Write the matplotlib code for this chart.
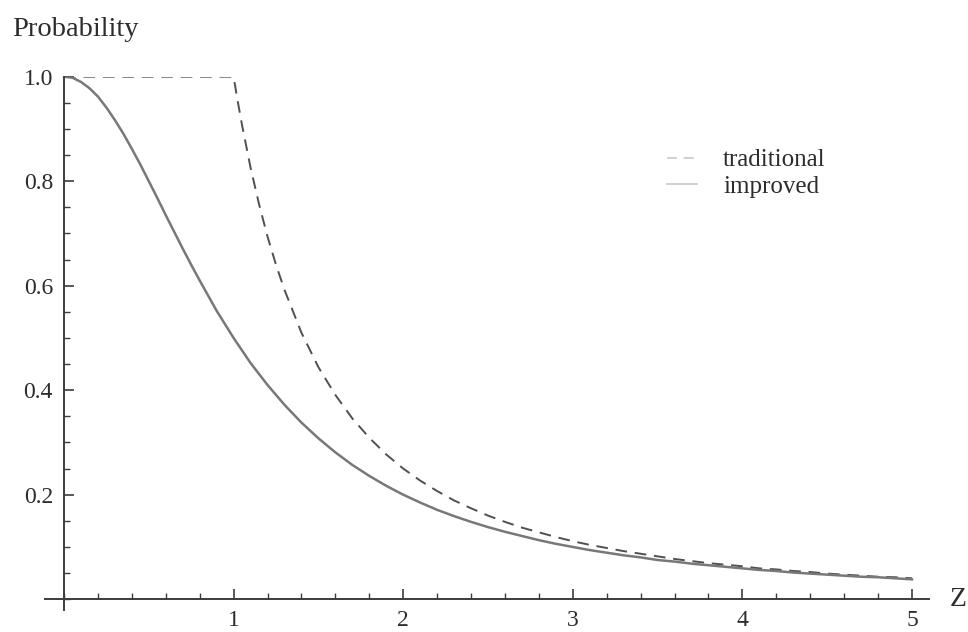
import matplotlib
matplotlib.use("Agg")
import matplotlib.pyplot as plt
from matplotlib.ticker import MultipleLocator, FixedLocator

plt.rcParams['font.family'] = ['Liberation Serif', 'DejaVu Serif']

# improved probability
z_improved = [0.0, 0.05, 0.1, 0.15, 0.2, 0.25, 0.3, 0.35, 0.4, 0.45, 0.5, 0.55, 0.6, 0.65,
              0.7, 0.75, 0.8, 0.85, 0.9, 0.95, 1.0, 1.1, 1.2, 1.3, 1.4, 1.5, 1.6, 1.7,
              1.8, 1.9, 2.0, 2.1, 2.2, 2.3, 2.4, 2.5, 2.6, 2.7, 2.8, 2.9, 3.0, 3.1, 3.2,
              3.3, 3.4, 3.5, 3.6, 3.7, 3.8, 3.9, 4.0, 4.1, 4.2, 4.3, 4.4, 4.5, 4.6, 4.7,
              4.8, 4.9, 5.0]
p_improved = [1.000, 0.998, 0.990, 0.978, 0.962, 0.941, 0.917, 0.891, 0.862, 0.832,
              0.800, 0.768, 0.735, 0.703, 0.671, 0.640, 0.610, 0.581, 0.552, 0.526,
              0.500, 0.452, 0.410, 0.372, 0.338, 0.308, 0.281, 0.257, 0.236, 0.217,
              0.200, 0.185, 0.171, 0.159, 0.148, 0.138, 0.129, 0.121, 0.113, 0.106,
              0.100, 0.094, 0.089, 0.084, 0.080, 0.075, 0.072, 0.068, 0.065, 0.062,
              0.059, 0.056, 0.054, 0.051, 0.049, 0.047, 0.045, 0.043, 0.042, 0.040,
              0.038]

# traditional probability
z_traditional = [0.0, 1.0, 1.02, 1.05, 1.1, 1.15, 1.2, 1.25, 1.3, 1.4, 1.5, 1.6, 1.7, 1.8, 1.9,
                 2.0, 2.1, 2.2, 2.3, 2.4, 2.5, 2.6, 2.7, 2.8, 2.9,
                 3.0, 3.1, 3.2, 3.3, 3.4, 3.5, 3.6, 3.7, 3.8, 3.9,
                 4.0, 4.1, 4.2, 4.3, 4.4, 4.5, 4.6, 4.7, 4.8, 4.9, 5.0]
p_traditional = [1.000, 1.000, 0.961, 0.907, 0.826, 0.756, 0.694, 0.640, 0.592, 0.510,
                 0.444, 0.391, 0.346, 0.309, 0.277,
                 0.250, 0.227, 0.207, 0.189, 0.174, 0.160, 0.148, 0.137, 0.128, 0.119,
                 0.111, 0.104, 0.098, 0.092, 0.087, 0.082, 0.077, 0.073, 0.069, 0.066,
                 0.063, 0.059, 0.057, 0.054, 0.052, 0.049, 0.047, 0.045, 0.043, 0.042, 0.040]

x_ticks = [1, 2, 3, 4, 5]
x_ticklabels = ["1", "2", "3", "4", "5"]
y_ticks = [0.2, 0.4, 0.6, 0.8, 1.0]
y_ticklabels = ["0.2", "0.4", "0.6", "0.8", "1.0"]

W, H = 968, 632
fig = plt.figure(figsize=(W / 100, H / 100), dpi=100)

# pixel geometry of the axes
x0_px, px_per_x = 64.0, 169.6
y0_px, px_per_y = 599.2, 522.5
xlim = (-0.11, 5.1)
ylim = (-0.02, 1.0)
left = x0_px + xlim[0] * px_per_x
right = x0_px + xlim[1] * px_per_x
bottom = y0_px - ylim[0] * px_per_y
top = y0_px - ylim[1] * px_per_y
ax = fig.add_axes([left / W, 1 - bottom / H, (right - left) / W, (bottom - top) / H])
ax.set_xlim(*xlim)
ax.set_ylim(*ylim)

axis_color = '#3c3c3c'
text_color = '#2c2c2c'

l_trad, = ax.plot(z_traditional, p_traditional, color='#505050', lw=1.4,
                  dashes=(6, 4), label='traditional')
l_imp, = ax.plot(z_improved, p_improved, color='#787878', lw=1.8, label='improved')

for s in ['top', 'right']:
    ax.spines[s].set_visible(False)
ax.spines['left'].set_position(('data', 0))
ax.spines['bottom'].set_position(('data', 0))
for s in ['left', 'bottom']:
    ax.spines[s].set_color(axis_color)
    ax.spines[s].set_linewidth(1.4)

ax.xaxis.set_major_locator(FixedLocator(x_ticks))
ax.set_xticklabels(x_ticklabels)
ax.yaxis.set_major_locator(FixedLocator(y_ticks))
ax.set_yticklabels(y_ticklabels)
ax.xaxis.set_minor_locator(MultipleLocator(0.2))
ax.yaxis.set_minor_locator(MultipleLocator(0.05))

ax.tick_params(which='major', direction='in', length=7, width=1.2, color=axis_color,
               labelsize=17, labelcolor=text_color, pad=8)
ax.tick_params(which='minor', direction='in', length=4, width=1.0, color=axis_color)

fig.text(12 / W, 1 - 29 / H, 'Probability', fontsize=20.5, color=text_color,
         ha='left', va='center')
fig.text(950 / W, 1 - 600 / H, 'Z', fontsize=20, color=text_color,
         ha='left', va='center')

leg = ax.legend(handles=[l_trad, l_imp], loc='upper left',
                bbox_to_anchor=((667 - left) / (right - left), 1 - (149 - top) / (bottom - top)),
                frameon=False, fontsize=18, handlelength=1.2, handletextpad=1.05,
                labelspacing=0.15, borderpad=0, borderaxespad=0)
for t in leg.get_texts():
    t.set_color(text_color)
for ln in leg.get_lines():
    ln.set_color('#c8c8c8')
    ln.set_linewidth(1.2)

fig.savefig('out.png', dpi=100)
